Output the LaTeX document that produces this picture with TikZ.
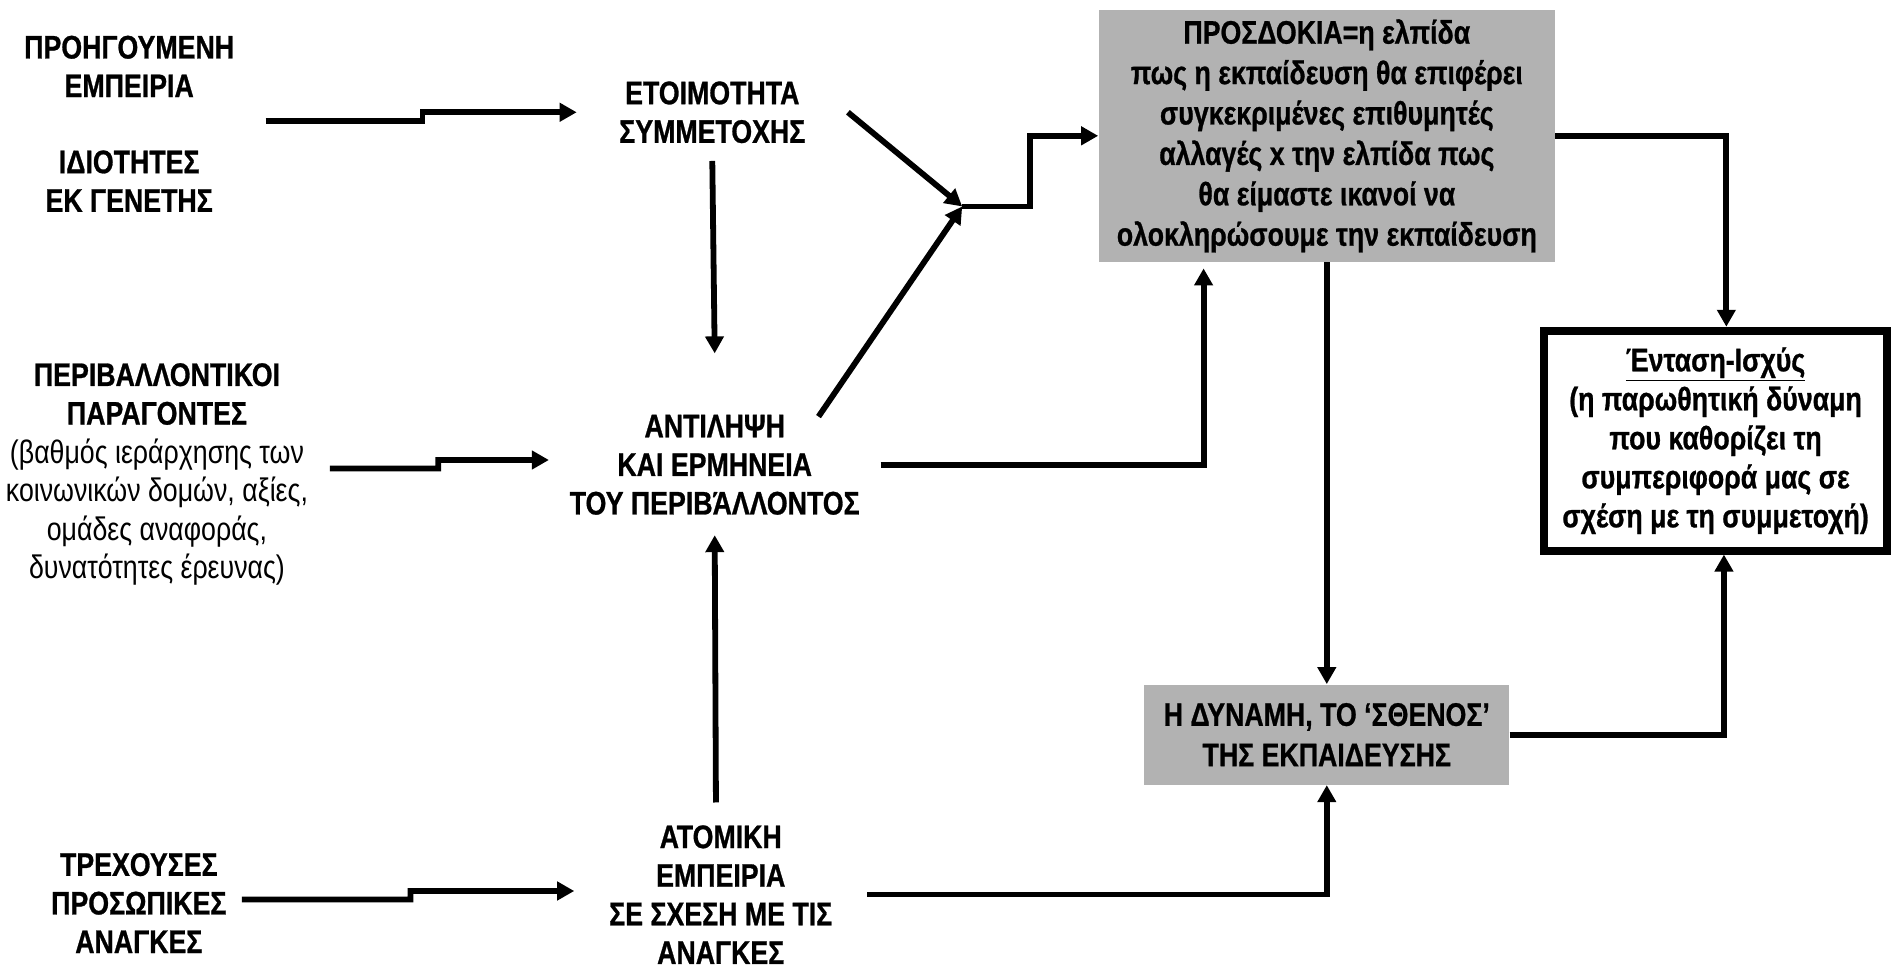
\documentclass[tikz,border=0pt]{standalone}
\usepackage{fontspec}
\setmainfont[FakeStretch=0.82, BoldFeatures={FakeBold=0.8}]{Liberation Sans}
\usetikzlibrary{arrows.meta}
\definecolor{boxgrey}{HTML}{B2B2B2}
\tikzset{
  arr/.style={line width=2.9pt, -{Triangle[length=8.5pt,width=9pt]}},
  lbl/.style={font=\bfseries\fontsize{16.3}{19.3}\selectfont, align=center, inner sep=0pt},
  gbox/.style={fill=boxgrey, font=\bfseries\fontsize{16.3}{20.2}\selectfont, align=center, inner sep=0pt},
  wbox/.style={draw=black, line width=4pt, fill=white, font=\bfseries\fontsize{16.3}{19.5}\selectfont, align=center, inner sep=0pt}
}
\begin{document}
\begin{tikzpicture}[x=0.6036pt,y=-0.6036pt]
\useasboundingbox (0,0) rectangle (1568,806);

% left labels
\node[lbl] (n1) at (107,55) {ΠΡΟΗΓΟΥΜΕΝΗ\\ΕΜΠΕΙΡΙΑ};
\node[lbl] (n2) at (107,150) {ΙΔΙΟΤΗΤΕΣ\\ΕΚ ΓΕΝΕΤΗΣ};
\node[lbl, minimum width=172.6pt] (n3) at (130,393) {ΠΕΡΙΒΑΛΛΟΝΤΙΚΟΙ\\ΠΑΡΑΓΟΝΤΕΣ\\\mdseries (βαθμός ιεράρχησης των\\\mdseries κοινωνικών δομών, αξίες,\\\mdseries ομάδες αναφοράς,\\\mdseries δυνατότητες έρευνας)};
\node[lbl, minimum width=102.6pt] (n4) at (115,748) {ΤΡΕΧΟΥΣΕΣ\\ΠΡΟΣΩΠΙΚΕΣ\\ΑΝΑΓΚΕΣ};

% middle labels
\node[lbl, minimum width=135.2pt, minimum height=48.3pt] (m1) at (590,93) {ΕΤΟΙΜΟΤΗΤΑ\\ΣΥΜΜΕΤΟΧΗΣ};
\node[lbl, minimum width=165.4pt, minimum height=70pt] (m2) at (592,385) {ΑΝΤΙΛΗΨΗ\\ΚΑΙ ΕΡΜΗΝΕΙΑ\\ΤΟΥ ΠΕΡΙΒΆΛΛΟΝΤΟΣ};
\node[lbl, minimum width=146.1pt, minimum height=91.7pt] (m3) at (597,741) {ΑΤΟΜΙΚΗ\\ΕΜΠΕΙΡΙΑ\\ΣΕ ΣΧΕΣΗ ΜΕ ΤΙΣ\\ΑΝΑΓΚΕΣ};

% boxes
\node[gbox, minimum width=228.2pt, minimum height=126.2pt] (b1) at (1099,112.5) {ΠΡΟΣΔΟΚΙΑ=η ελπίδα\\πως η εκπαίδευση θα επιφέρει\\συγκεκριμένες επιθυμητές\\αλλαγές x την ελπίδα πως\\θα είμαστε ικανοί να\\ολοκληρώσουμε την εκπαίδευση};
\node[gbox, minimum width=182.3pt, minimum height=50.1pt] (b2) at (1099,608.5) {Η ΔΥΝΑΜΗ, ΤΟ ‘ΣΘΕΝΟΣ’\\ΤΗΣ ΕΚΠΑΙΔΕΥΣΗΣ};
\node[wbox, minimum width=171.4pt, minimum height=109.9pt] (b3) at (1421,365) {\underline{Ένταση-Ισχύς}\\(η παρωθητική δύναμη\\που καθορίζει τη\\συμπεριφορά μας σε\\σχέση με τη συμμετοχή)};

% connectors
\coordinate (s1) at (220,100);
\coordinate (j) at (797,171);
\draw[arr] (s1) -- (350,100) -- (350,93) -- (m1.west);
\draw[arr] ([yshift=3pt]n3.east) -- (363,388) -- (363,381) -- ([yshift=2.4pt]m2.west);
\draw[arr] ([yshift=1.8pt]n4.east) -- (340,745) -- (340,738) -- ([yshift=1.8pt]m3.west);
\draw[arr] (m1.south) -- ([yshift=20.5pt]m2.north);
\draw[arr] ([xshift=-2.4pt]m3.north) -- (m2.south);
\draw[arr] (m1.east) -- (j);
\draw[arr] ([xshift=51.9pt,yshift=24.1pt]m2.center) -- (j);
\draw[arr] (j) -- (853,171) -- (853,112.5) -- (b1.west);
\draw[arr] (m2.east) -| ([xshift=-61.6pt,yshift=-3pt]b1.south);
\draw[arr] (b1.south) -- (b2.north);
\draw[arr] (b1.east) -| ([xshift=5.4pt]b3.north);
\draw[arr] (b2.east) -| ([xshift=4.2pt]b3.south);
\draw[arr] (m3.east) -| (b2.south);
\end{tikzpicture}
\end{document}
